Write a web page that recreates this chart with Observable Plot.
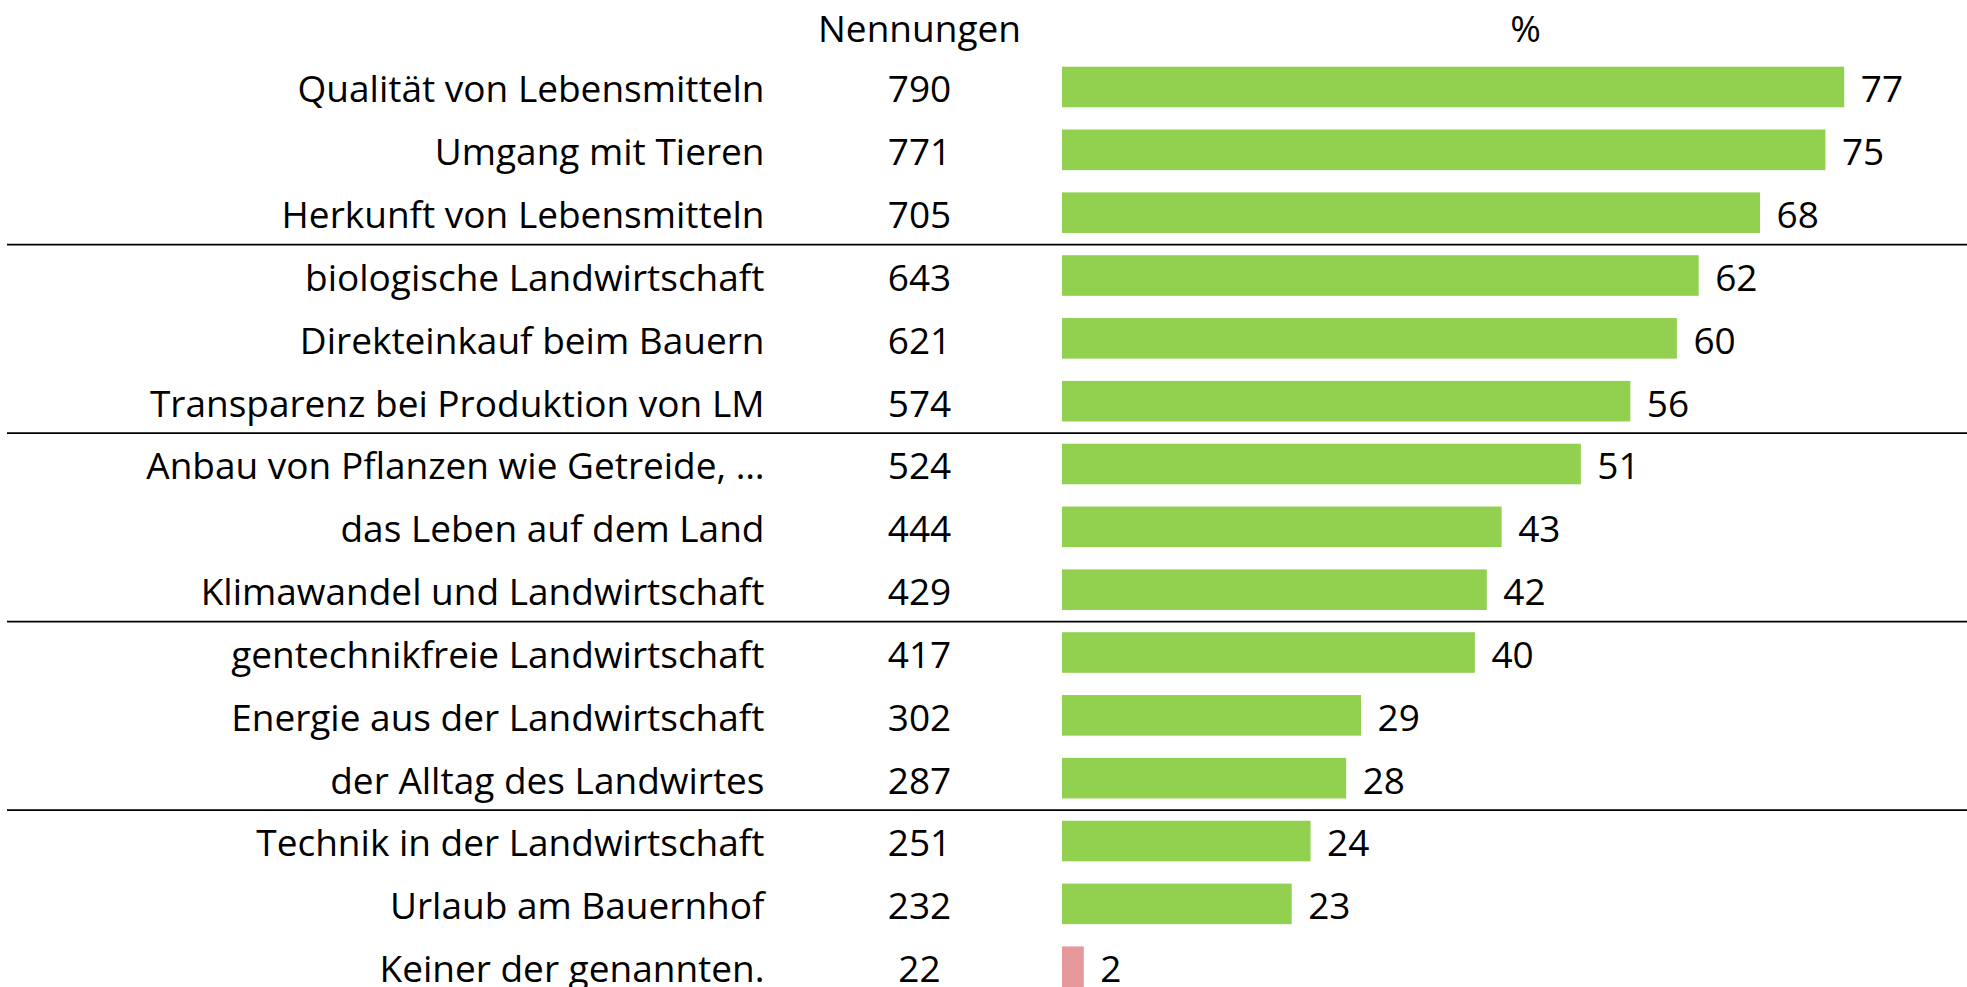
<!DOCTYPE html>
<html>
<head>
<meta charset="utf-8">
<script src="https://cdn.jsdelivr.net/npm/d3@7"></script>
<script src="https://cdn.jsdelivr.net/npm/@observablehq/plot@0.6"></script>
<style>
  html, body { margin: 0; padding: 0; background: #fff; }
  #chart svg { display: block; }
</style>
</head>
<body>
<div id="chart"></div>
<script>
const categories = [
  "Qualität von Lebensmitteln",
  "Umgang mit Tieren",
  "Herkunft von Lebensmitteln",
  "biologische Landwirtschaft",
  "Direkteinkauf beim Bauern",
  "Transparenz bei Produktion von LM",
  "Anbau von Pflanzen wie Getreide, …",
  "das Leben auf dem Land",
  "Klimawandel und Landwirtschaft",
  "gentechnikfreie Landwirtschaft",
  "Energie aus der Landwirtschaft",
  "der Alltag des Landwirtes",
  "Technik in der Landwirtschaft",
  "Urlaub am Bauernhof",
  "Keiner der genannten."
];
const nennungen = [790, 771, 705, 643, 621, 574, 524, 444, 429, 417, 302, 287, 251, 232, 22];
const prozent = [77, 75, 68, 62, 60, 56, 51, 43, 42, 40, 29, 28, 24, 23, 2];
const gruppe = ["thema","thema","thema","thema","thema","thema","thema","thema","thema","thema","thema","thema","thema","thema","keiner"];
const gruppenAnfang = [
  "biologische Landwirtschaft",
  "Anbau von Pflanzen wie Getreide, …",
  "gentechnikfreie Landwirtschaft",
  "Technik in der Landwirtschaft"
];
const kopfNennungen = "Nennungen";
const kopfProzent = "%";

const rows = categories.map((c, i) => ({
  kategorie: c, n: nennungen[i], p: prozent[i], g: gruppe[i]
}));

const W = 1967, H = 987;
const mL = 1062, mT = 66.7;
const font = "'Open Sans', sans-serif";
const fs = 37;
const step = (H - mT) / (categories.length - 0.354);

const chart = Plot.plot({
  width: W,
  height: H,
  marginLeft: mL,
  marginRight: 0,
  marginTop: mT,
  marginBottom: 0,
  style: { fontFamily: font, fontSize: fs + "px", color: "#000", background: "#fff" },
  x: { domain: [0, 914], axis: null },
  y: { type: "band", domain: categories, paddingInner: 0.354, paddingOuter: 0, round: false, axis: null },
  color: { domain: ["thema", "keiner"], range: ["#92D050", "#E6999A"] },
  marks: [
    Plot.barX(rows, { x: "n", y: "kategorie", fill: "g" }),
    Plot.ruleY(gruppenAnfang, {
      y: d => d, dy: -step / 2, stroke: "#000", strokeWidth: 1.8,
      insetLeft: -(mL - 7)
    }),
    Plot.axisY({
      tickSize: 0, tickPadding: mL - 764, label: null,
      fontSize: fs, dy: 3, fill: "#000"
    }),
    Plot.text(rows, {
      y: "kategorie", text: d => String(d.n), frameAnchor: "left",
      dx: 919 - mL, textAnchor: "middle", fontSize: fs, dy: 3, fill: "#000"
    }),
    Plot.text(rows, {
      x: "n", y: "kategorie", text: d => String(d.p),
      textAnchor: "start", dx: 16, fontSize: fs, dy: 3, fill: "#000"
    }),
    Plot.text([kopfNennungen], {
      text: d => d, frameAnchor: "top-left", dx: 919 - mL, textAnchor: "middle",
      lineAnchor: "bottom", dy: 42 - mT, fontSize: fs, fill: "#000"
    }),
    Plot.text([kopfProzent], {
      text: d => d, frameAnchor: "top", dx: 1525 - (mL + W) / 2, textAnchor: "middle",
      lineAnchor: "bottom", dy: 42 - mT, fontSize: fs, fill: "#000"
    })
  ]
});
document.getElementById("chart").appendChild(chart);
</script>
</body>
</html>
